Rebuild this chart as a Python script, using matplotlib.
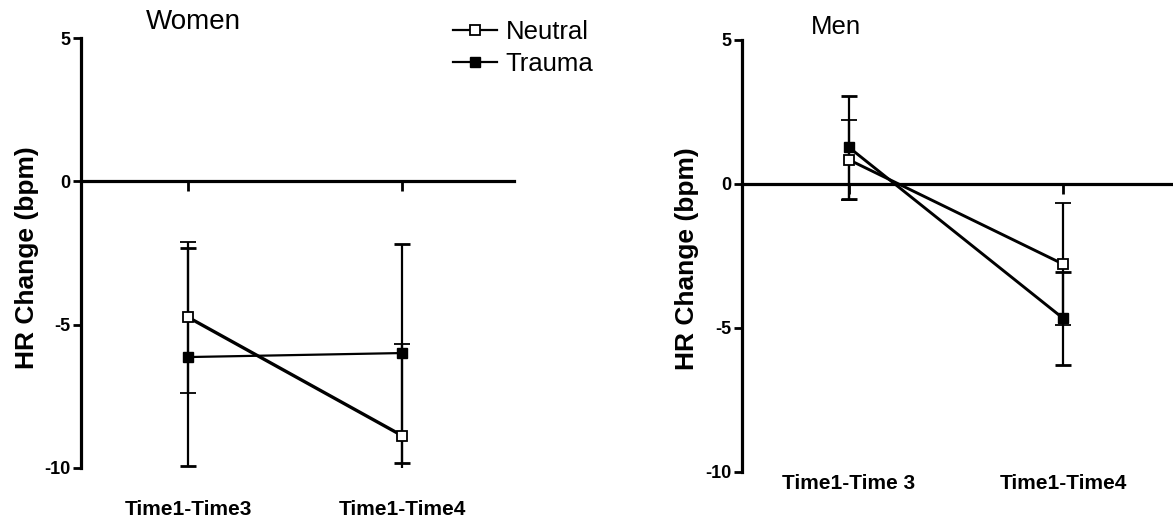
import matplotlib
matplotlib.use("Agg")
import matplotlib.pyplot as plt
import numpy as np

plt.rcParams['font.family'] = ['Liberation Sans', 'DejaVu Sans']

categories_women = ["Time1-Time3", "Time1-Time4"]
categories_men = ["Time1-Time 3", "Time1-Time4"]

women_neutral = [-4.74, -8.87]
women_neutral_err = [2.64, 3.20]
women_trauma = [-6.13, -5.99]
women_trauma_err = [3.79, 3.82]

men_neutral = [0.84, -2.78]
men_neutral_err = [1.38, 2.13]
men_trauma = [1.27, -4.66]
men_trauma_err = [1.80, 1.61]

yticks = [5, 0, -5, -10]
ytick_labels = ["5", "0", "-5", "-10"]

W, H = 1173, 520
fig = plt.figure(figsize=(W / 100, H / 100), dpi=100)

def px_axes(left, right, top, bottom):
    return fig.add_axes([left / W, (H - bottom) / H, (right - left) / W, (bottom - top) / H])

ax_w = px_axes(81, 514, 38, 468)
ax_m = px_axes(742, 1173, 40, 472)


def style(ax, cats, xlim, label_pad, ylabel_x, ylabel_y, title, title_xy, title_size,
          lw_neutral, lw_trauma, neutral, neutral_err, trauma, trauma_err):
    x = np.arange(len(cats))
    tr = ax.errorbar(x, trauma, yerr=trauma_err, color='black', marker='s',
                     markersize=6.8, markerfacecolor='black', markeredgecolor='black',
                     linewidth=lw_trauma, elinewidth=1.6, capsize=5.5, capthick=2.0,
                     zorder=3)
    ne = ax.errorbar(x, neutral, yerr=neutral_err, color='black', marker='s',
                     markersize=6.8, markerfacecolor='white', markeredgecolor='black',
                     markeredgewidth=1.3,
                     linewidth=lw_neutral, elinewidth=1.6, capsize=5.5, capthick=2.0,
                     zorder=4)
    ax.set_xlim(*xlim)
    ax.set_ylim(-10, 5)
    for s in ['top', 'right']:
        ax.spines[s].set_visible(False)
    ax.spines['left'].set_linewidth(2.3)
    ax.spines['bottom'].set_position(('data', 0))
    ax.spines['bottom'].set_linewidth(2.3)
    ax.set_xticks(x)
    ax.set_xticklabels([])
    ax.tick_params(axis='x', direction='out', length=7, width=2.0)
    ax.set_yticks(yticks)
    ax.set_yticklabels(ytick_labels, fontsize=13, fontweight='bold')
    ax.tick_params(axis='y', direction='out', length=5.5, width=2.0, pad=2)
    sec = ax.secondary_xaxis(0.0)
    sec.spines['bottom'].set_visible(False)
    sec.set_xticks(x)
    sec.set_xticklabels(cats, fontsize=15, fontweight='bold')
    sec.tick_params(axis='x', length=0, pad=label_pad)
    ax.set_ylabel("HR Change (bpm)", fontsize=19, fontweight='bold', va='center')
    ax.yaxis.set_label_coords(ylabel_x, ylabel_y)
    ax.text(title_xy[0], title_xy[1], title, transform=ax.transAxes,
            ha='center', va='center', fontsize=title_size, clip_on=False)
    ax.patch.set_alpha(0)
    return ne, tr


ne_w, tr_w = style(ax_w, categories_women, (-0.5, 1.523), 23, -0.125, 0.49, "Women",
                   (0.26, 1.037), 20,
                   2.4, 1.6, women_neutral, women_neutral_err, women_trauma, women_trauma_err)
style(ax_m, categories_men, (-0.5, 1.514), 1.5, -0.128, 0.493, "Men", (0.218, 1.030), 18.5,
      2.1, 2.1, men_neutral, men_neutral_err, men_trauma, men_trauma_err)

leg = ax_w.legend([ne_w[0], tr_w[0]], ["Neutral", "Trauma"],
                  loc='upper left', bbox_to_anchor=(453 / W, 1 - 20 / H),
                  bbox_transform=fig.transFigure, frameon=False, fontsize=18.5,
                  handlelength=1.7, handletextpad=0.35, labelspacing=0.3,
                  borderpad=0, borderaxespad=0)
for h in leg.legend_handles:
    h.set_linewidth(1.6)

fig.savefig("out.png", dpi=100)
